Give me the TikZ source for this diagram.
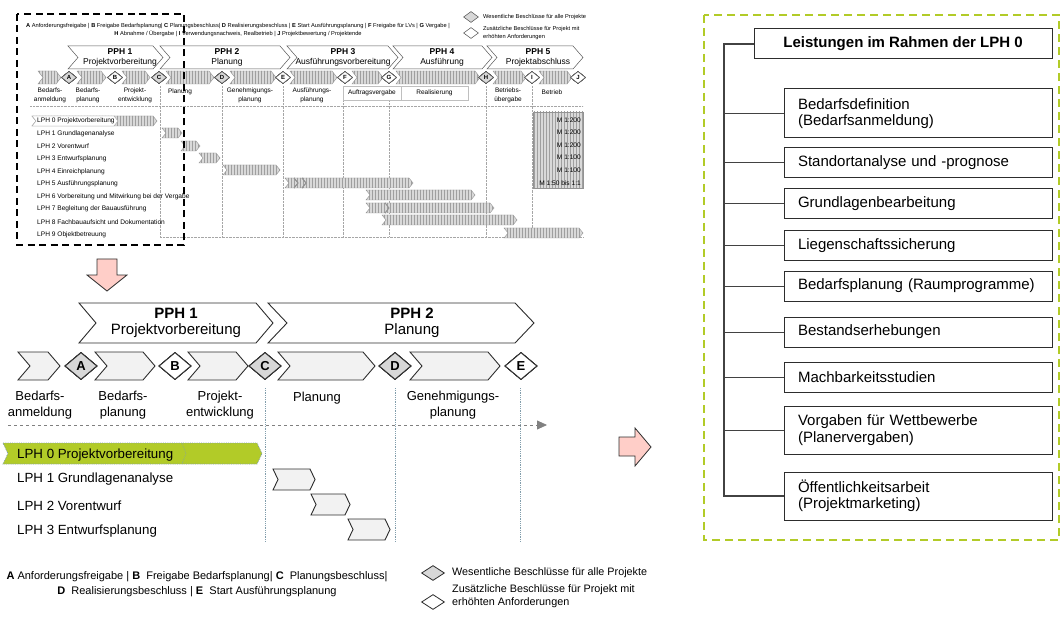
\documentclass[tikz,border=0pt]{standalone}
\usepackage{fontspec}
\setmainfont{Liberation Sans}
\usetikzlibrary{arrows.meta,positioning,shapes.geometric,patterns}
\definecolor{lime}{RGB}{178,203,40}
\definecolor{paper}{RGB}{242,242,242}
\definecolor{stone}{RGB}{216,216,216}
\definecolor{blush}{RGB}{255,206,200}
\definecolor{steel}{RGB}{130,158,172}
\definecolor{ink}{RGB}{45,45,45}
% chevron: [style]{left}{tip}{top}{bottom}{depth}
\newcommand{\chevbox}[6][]{%
  \draw[#1] (#2,#4) -- ({#3-#6},#4) -- (#3,{(#4+#5)/2}) -- ({#3-#6},#5)
    -- (#2,#5) -- ({#2+#6},{(#4+#5)/2}) -- cycle;}
\tikzset{
  >={Triangle[length=10pt,width=9pt]},
  chev/.style={draw=ink,fill=paper,line width=0.9pt},
  hatch/.style={draw=gray!85,line width=0.4pt,preaction={fill=gray!30},
    pattern=vertical lines,pattern color=gray!75},
  key/.style={diamond,draw=ink,line width=0.9pt,fill=#1,inner sep=0pt,
    minimum width=32pt,minimum height=27pt,font=\fontsize{13}{13}\selectfont\bfseries},
  key/.default=white,
  skey/.style={diamond,draw=gray!60!black,line width=0.5pt,fill=#1,inner sep=0pt,
    minimum width=15pt,minimum height=12pt,font=\fontsize{6}{6}\selectfont\bfseries},
  skey/.default=white,
  lkey/.style={diamond,draw=ink,line width=0.8pt,fill=#1,inner sep=0pt,
    minimum width=23pt,minimum height=15pt},
  lkey/.default=white,
  phase/.style={align=center,font=\fontsize{15}{16}\selectfont},
  sphase/.style={align=center,font=\fontsize{8.5}{9.5}\selectfont},
  stage/.style={align=center,font=\fontsize{13}{16}\selectfont},
  sstage/.style={align=center,font=\fontsize{6.5}{8.5}\selectfont},
  lph/.style={anchor=west,font=\fontsize{13.3}{15}\selectfont,inner sep=0pt},
  slph/.style={anchor=west,font=\fontsize{6.6}{8}\selectfont,inner sep=0pt},
  note/.style={align=left,font=\fontsize{10.8}{13}\selectfont,inner sep=0pt},
  snote/.style={align=center,font=\fontsize{5.7}{8}\selectfont,inner sep=0pt},
  gridline/.style={steel,densely dotted,line width=0.8pt},
  sgridline/.style={gray!70,densely dotted,line width=0.4pt},
  hint/.style={draw=ink,fill=blush,line width=0.8pt},
  item/.style={draw=ink,line width=1pt,minimum width=268pt,text width=240pt,
    inner xsep=14pt,align=left,font=\fontsize{15}{16.5}\selectfont},
  tree/.style={draw=ink!90,line width=1pt},
}

\begin{document}
\begin{tikzpicture}[x=1pt,y=-1pt]
\useasboundingbox (0,0) rectangle (1062,620);

% overview of all project phases (upper left)
\node[snote] (olegend) at (238,30) {\textbf{A} Anforderungsfreigabe | \textbf{B} Freigabe Bedarfsplanung| \textbf{C} Planungsbeschluss| \textbf{D} Realisierungsbeschluss | \textbf{E} Start Ausführungsplanung | \textbf{F} Freigabe für LVs | \textbf{G} Vergabe |\\
  \textbf{H} Abnahme / Übergabe | \textbf{I} Verwendungsnachweis, Realbetrieb | \textbf{J} Projektbewertung / Projektende};
\node[skey=stone,minimum height=11pt] (okA) at (471,17) {};
\node[snote,anchor=west,align=left] (okAt) at (483,17) {Wesentliche Beschlüsse für alle Projekte};
\node[skey,minimum height=11pt] (okB) at (471,33) {};
\node[snote,anchor=west,align=left] (okBt) at (483,33) {Zusätzliche Beschlüsse für Projekt mit\\erhöhten Anforderungen};

\foreach \a/\b/\c/\t in {68/163/120/{\textbf{PPH 1}\\Projektvorbereitung},160/290/227/{\textbf{PPH 2}\\Planung},
    287/398/343/{\textbf{PPH 3}\\Ausführungsvorbereitung},393/492/442/{\textbf{PPH 4}\\Ausführung},
    487/583/538/{\textbf{PPH 5}\\Projektabschluss}}{
  \chevbox[draw=gray!70!black,fill=white,line width=0.5pt]{\a}{\b}{46}{69}{10}
  \node[sphase] (oph\c) at (\c,57.5) {\t};
}
\foreach \a/\b in {38/61,77/106,122/150,166/214,230/276,290/337,352/383,396/480,493/526,539/572}
  \chevbox[hatch]{\a}{\b}{71}{84}{5}
\foreach \x/\l/\f in {69/A/stone,115/B/white,159/C/stone,222/D/stone,283/E/white,
    345/F/white,389/G/white,486/H/stone,532/I/white,578/J/white}
  \node[skey=\f] (o\l) at (\x,77.5) {\l};

\draw[sgridline] (30,106) -- (583,106);
\draw[sgridline] (160,237) -- (583,237);
\foreach \x in {160,222,283,343,389,486,532} \draw[sgridline] (\x,86) -- (\x,237);

\foreach \x/\t in {50/{Bedarfs-\\anmeldung},88/{Bedarfs-\\planung},135/{Projekt-\\entwicklung},
    250/{Genehmigungs-\\planung},312/{Ausführungs-\\planung},508/{Betriebs-\\übergabe}}
  \node[sstage] (os\x) at (\x,95.5) {\t};
\node[sstage] (osplan) at (180,92) {Planung};
\node[sstage] (osbetr) at (552,92) {Betrieb};
\node[sstage,draw=gray!50,fill=white,minimum width=58pt,minimum height=14pt,inner sep=0pt] (osvergabe) at (372,93) {Auftragsvergabe};
\node[sstage,draw=gray!50,fill=white,minimum width=67pt,minimum height=14pt,inner sep=0pt] (osreal) at (434.5,93) {Realisierung};

\draw[hatch] (533,112) rectangle (583,188);
\foreach \t/\y in {M 1:200/120,M 1:200/132,M 1:200/145,M 1:100/157,M 1:100/170,M 1:50 bis 1:1/183}
  \node[slph,anchor=east] at (581,\y) {\t};

\foreach \a/\b/\y in {32/157/116,162/182/128,181/200/141,199/220/153,223/280/165,
    285/413/178,366/475/190,366/494/203,382/517/215,504/583/228}
  \chevbox[hatch]{\a}{\b}{\y}{\y+10}{4}
\draw[gray!85,line width=0.4pt] (294,178) -- (298,183) -- (294,188) (302,178) -- (306,183) -- (302,188)
  (385,203) -- (389,208) -- (385,213);
\chevbox[draw=gray!70,fill=white,line width=0.4pt]{32}{118}{116}{126}{4}
\foreach \t [count=\i from 0] in {Projektvorbereitung,Grundlagenanalyse,Vorentwurf,Entwurfsplanung,
    Einreichplanung,Ausführungsplanung,Vorbereitung und Mitwirkung bei der Vergabe,
    Begleitung der Bauausführung,Fachbauaufsicht und Dokumentation,Objektbetreuung}
  \node[slph] (ol\i) at (37,{121+12.6*\i}) {LPH \i\ \t};

\draw[line width=2.8pt,dash pattern=on 7pt off 4.5pt] (17,14) rectangle (184,245);

% zoomed section (lower left)
\draw[hint] (97,259) -- (117,259) -- (117,275) -- (127,275) -- (107,291) -- (87,275) -- (97,275) -- cycle;

\chevbox[chev,fill=white]{79}{273}{303}{343}{17}
\chevbox[chev,fill=white]{268}{534}{303}{343}{19}
\node[phase] (pph1) at (176,323) {\textbf{PPH 1}\\Projektvorbereitung};
\node[phase] (pph2) at (412,323) {\textbf{PPH 2}\\Planung};

\foreach \a/\b in {18/60,95/155,188/248,278/375,410/500}
  \chevbox[chev]{\a}{\b}{352}{380}{12}
\foreach \x/\l/\f in {81/A/stone,175/B/white,265/C/stone,395/D/stone,521/E/white}
  \node[key=\f] (k\l) at (\x,366) {\l};

\foreach \x/\t in {40/{Bedarfs-\\anmeldung},123/{Bedarfs-\\planung},220/{Projekt-\\entwicklung},453/{Genehmigungs-\\planung}}
  \node[stage] (s\x) at (\x,405) {\t};
\node[stage] (splan) at (317,398) {Planung};

\foreach \x in {265,395,520} \draw[gridline] (\x,388) -- (\x,542);
\coordinate (t0) at (8,425);
\coordinate (t1) at (547,425);
\draw[gray,dashed,line width=0.8pt,->] (t0) -- (t1);

\chevbox[fill=lime,draw=steel,densely dotted,line width=0.8pt]{3}{262}{443}{464}{5}
\draw[steel,densely dotted,line width=0.6pt] (182,443) -- (186,453.5) -- (182,464);
\foreach \t/\y [count=\i from 0] in {Projektvorbereitung/455,Grundlagenanalyse/479,Vorentwurf/506,Entwurfsplanung/531}
  \node[lph] (l\i) at (17,\y) {LPH \i\ \t};
\chevbox[chev]{273}{315}{469}{490}{5}
\chevbox[chev]{311}{350}{494}{515}{5}
\chevbox[chev]{348}{390}{519}{540}{5}

\node[note,align=center,font=\fontsize{11}{15}\selectfont] (legend) at (197,584) {\textbf{A} Anforderungsfreigabe | \textbf{B}\ \ Freigabe Bedarfsplanung| \textbf{C}\ \ Planungsbeschluss|\\
  \textbf{D}\ \ Realisierungsbeschluss | \textbf{E}\ \ Start Ausführungsplanung};
\node[lkey=stone] (kw) at (433,573) {};
\node[note,anchor=west] (kwt) at (452,573) {Wesentliche Beschlüsse für alle Projekte};
\node[lkey] (kz) at (433,602) {};
\node[note,anchor=west] (kzt) at (452,596.5) {Zusätzliche Beschlüsse für Projekt mit\\erhöhten Anforderungen};

\draw[hint] (619,437) -- (635,437) -- (635,428) -- (651,447) -- (635,466) -- (635,456) -- (619,456) -- cycle;

% services of LPH 0 (right)
\draw[lime,line width=2.6pt,dash pattern=on 8pt off 5pt] (704,15) rectangle (1059,540);
\node[draw=ink,line width=1pt,minimum width=298pt,minimum height=30pt,
  font=\fontsize{15}{16}\selectfont\bfseries] (head) at (903,44) {Leistungen im Rahmen der LPH 0};
\foreach \t/\y/\h [count=\i] in {{Bedarfsdefinition\\(Bedarfsanmeldung)}/113.5/49,
    {Standortanalyse und -prognose}/163/30,Grundlagenbearbeitung/204/30,
    Liegenschaftssicherung/246/30,{Bedarfsplanung (Raumprogramme)}/286/30,
    Bestandserhebungen/332/30,Machbarkeitsstudien/377/30,
    {Vorgaben für Wettbewerbe\\(Planervergaben)}/430/48,
    {Öffentlichkeitsarbeit\\(Projektmarketing)}/496/48}
  \node[item,minimum height=\h pt] (b\i) at (918,\y) {\t};
\coordinate (trunk) at (724,44);
\draw[tree,line width=1.4pt] (head.west) -- (trunk) -- (trunk |- b9.west) -- (b9.west);
\foreach \i in {1,...,8} \draw[tree] (trunk |- b\i.west) -- (b\i.west);
\end{tikzpicture}
\end{document}
